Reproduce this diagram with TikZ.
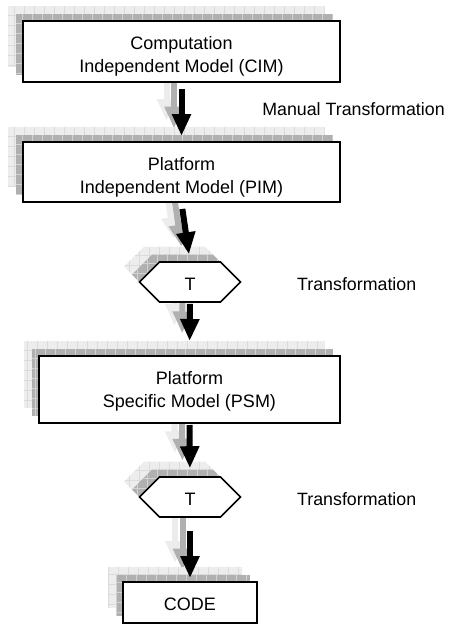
\documentclass[tikz,border=0pt]{standalone}
\usepackage{fontspec}
\setmainfont{Liberation Sans}
\usetikzlibrary{shapes.symbols,shadows,arrows.meta,backgrounds}
\newcommand{\boxtext}[3]{\raisebox{0pt}[\dimexpr\height+#1\relax][\depth]{\begin{tabular}{@{}c@{}}#2\\#3\end{tabular}}}
\begin{document}
\begin{tikzpicture}[x=1pt,y=-1pt,
  shadowlight/.style={general shadow={shadow xshift=-15.5pt, shadow yshift=15.5pt, fill=gray!14,
    path picture={\draw[gray!28, line width=0.6pt] (path picture bounding box.south west) grid[xstep=10pt,ystep=10pt] (path picture bounding box.north east);}}},
  shadowdark/.style={general shadow={shadow xshift=-7.5pt, shadow yshift=7.5pt, fill=gray!62,
    path picture={\draw[gray!35, line width=0.6pt] (path picture bounding box.south west) grid[xstep=10pt,ystep=10pt] (path picture bounding box.north east);}}},
  modelbox/.style={rectangle, draw=black, line width=2pt, fill=white, inner sep=0pt,
    shadowlight, shadowdark, font=\fontsize{18}{23}\selectfont},
  hexbox/.style={signal, signal to=east and west, signal pointer angle=90,
    draw=black, line width=1.6pt, fill=white, inner sep=0pt,
    minimum width=101pt, minimum height=40pt, shadowlight, shadowdark,
    font=\fontsize{18}{21}\selectfont, text height=17pt, text depth=0pt},
  lbl/.style={anchor=base, inner sep=0pt, font=\fontsize{17.8}{21}\selectfont},
  flow/.style={line width=6pt, draw=black, -{Triangle[length=22pt,width=18pt]}},
  flowdark/.style={line width=6pt, draw=gray!62, -{Triangle[length=22pt,width=18pt]},
    transform canvas={shift={(-7.5pt,7.5pt)}}},
  flowlight/.style={line width=6pt, draw=gray!15, -{Triangle[length=22pt,width=18pt]},
    transform canvas={shift={(-15pt,15pt)}}}
]
\useasboundingbox (0,0) rectangle (450,624);

\node[modelbox, minimum width=317pt, minimum height=61pt] (cim) at (181.5,51.5)
  {\boxtext{10pt}{Computation}{Independent Model (CIM)}};
\node[modelbox, minimum width=317pt, minimum height=60pt] (pim) at (181.5,172)
  {\boxtext{10pt}{Platform}{Independent Model (PIM)}};
\node[hexbox] (t1) at (190,282) {T};
\node[modelbox, minimum width=301pt, minimum height=67pt] (psm) at (189.5,389.5)
  {\boxtext{4pt}{Platform}{Specific Model (PSM)}};
\node[hexbox] (t2) at (190,497) {T};
\node[modelbox, minimum width=134pt, minimum height=41pt, text height=15pt, text depth=0pt] (code) at (190,602.5)
  {CODE};

\node[lbl] (lman) at (353.5,115) {Manual Transformation};
\node[lbl] (ltr1) at (356.7,290) {Transformation};
\node[lbl] (ltr2) at (356.7,505.5) {Transformation};

\begin{scope}[on background layer]
  \draw[flowlight, shorten >=5pt] (cim.south) -- (pim.north);
  \draw[flowdark, shorten >=5pt] (cim.south) -- (pim.north);
  \draw[flowlight, shorten >=7pt] (pim.south) -- (t1.north);
  \draw[flowdark, shorten >=7pt] (pim.south) -- (t1.north);
  \draw[flowlight, shorten >=14pt] (t1.south) -- (psm.north);
  \draw[flowdark, shorten >=14pt] (t1.south) -- (psm.north);
  \draw[flowlight, shorten >=8pt] (psm.south) -- (t2.north);
  \draw[flowdark, shorten >=8pt] (psm.south) -- (t2.north);
  \draw[flowlight, shorten >=3pt] (t2.south) -- (code.north);
  \draw[flowdark, shorten >=3pt] (t2.south) -- (code.north);
\end{scope}

\draw[flow, shorten <=6pt, shorten >=5pt] (cim.south) -- (pim.north);
\draw[flow, shorten <=6pt, shorten >=7pt] (pim.south) -- (t1.north);
\draw[flow, shorten <=1pt, shorten >=14pt] (t1.south) -- (psm.north);
\draw[flow, shorten <=1pt, shorten >=8pt] (psm.south) -- (t2.north);
\draw[flow, shorten <=13pt, shorten >=3pt] (t2.south) -- (code.north);
\end{tikzpicture}
\end{document}
